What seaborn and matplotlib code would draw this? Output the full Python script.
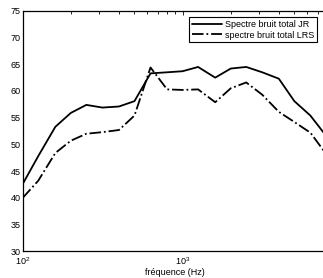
import matplotlib
matplotlib.use("Agg")
import matplotlib.pyplot as plt
import seaborn as sns
import pandas as pd

freqs = [100, 125, 160, 200, 250, 315, 400, 500, 630, 800, 1000,
         1250, 1600, 2000, 2500, 3150, 4000, 5000, 6300, 8000]
jr = [42.6, 47.8, 53.3, 55.9, 57.4, 56.9, 57.1, 58.1, 63.3, 63.5, 63.7,
      64.5, 62.5, 64.2, 64.5, 63.5, 62.3, 58.1, 55.4, 51.4]
lrs = [40.0, 43.2, 48.4, 50.7, 52.0, 52.3, 52.7, 55.4, 64.4, 60.3, 60.2,
       60.3, 57.9, 60.5, 61.6, 59.3, 56.1, 54.2, 52.2, 48.0]
labels = ["Spectre bruit total JR", "spectre bruit total LRS"]

sns.set_theme(style="white")
plt.rcParams["font.family"] = ["Liberation Sans", "DejaVu Sans"]
plt.rcParams["text.color"] = "black"

fig = plt.figure(figsize=(3.23, 2.78), dpi=100)
ax = fig.add_axes([0.0703, 0.096, 0.942, 0.865])

sns.lineplot(x=freqs, y=jr, ax=ax, color="black", linewidth=1.3,
             linestyle="-", label=labels[0])
sns.lineplot(x=freqs, y=lrs, ax=ax, color="black", linewidth=1.3,
             linestyle="-.", label=labels[1])

ax.set_xscale("log")
ax.set_xlim(100, 8000)
ax.set_ylim(30, 75)
ax.set_yticks(range(30, 80, 5))
ax.set_xlabel("fréquence (Hz)", fontsize=6.5, labelpad=0.5, color="black")
ax.set_ylabel("")
ax.tick_params(axis="both", which="both", direction="in", top=True,
               right=True, labelsize=6.5, color="black", labelcolor="black")
ax.tick_params(axis="y", pad=1.5)
ax.tick_params(axis="x", pad=3)
ax.tick_params(which="major", length=3, width=0.6)
ax.tick_params(which="minor", length=2, width=0.6)
for s in ax.spines.values():
    s.set_color("black")
    s.set_linewidth(0.9)

leg = ax.legend(loc="upper right", fontsize=6.5, frameon=True, fancybox=False,
                edgecolor="black", framealpha=1, borderpad=0.3,
                handlelength=3.3, handletextpad=0.4, labelspacing=0.2,
                bbox_to_anchor=(0.983, 0.993))
leg.get_frame().set_linewidth(0.8)
for t in leg.get_texts():
    t.set_color("black")

fig.savefig("out.png", dpi=100)
